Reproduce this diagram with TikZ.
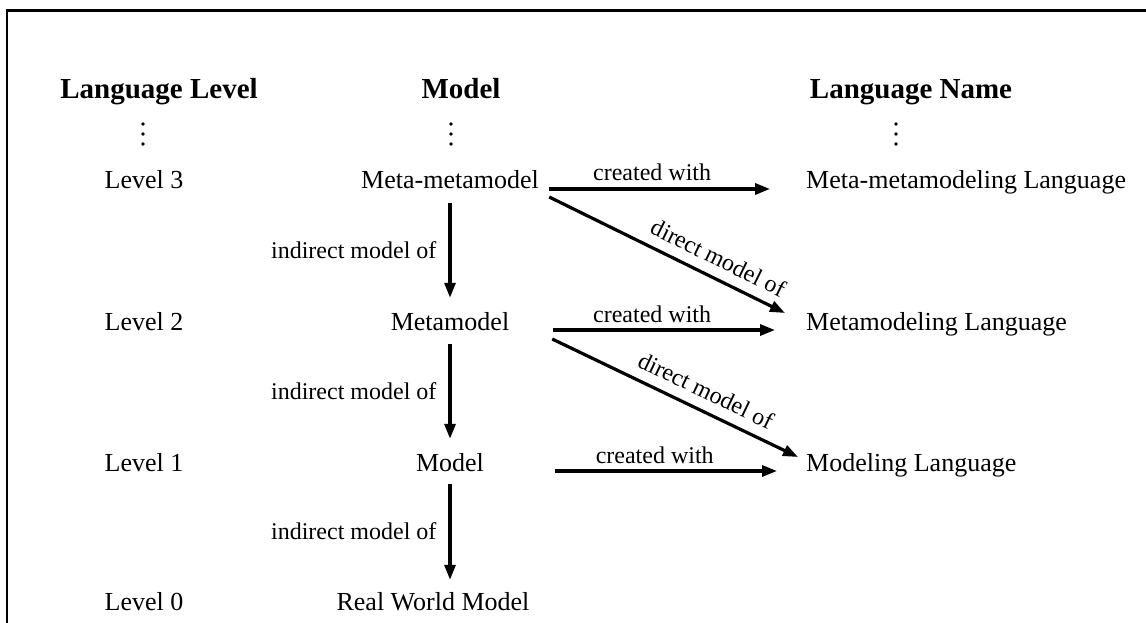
\documentclass[tikz,border=0pt]{standalone}
\usepackage{fontspec}
\setmainfont{Liberation Serif}
\usetikzlibrary{arrows.meta}
\begin{document}
\begin{tikzpicture}[x=1pt,y=-1pt,
  hdr/.style={font=\fontsize{29}{34}\selectfont\bfseries, inner sep=0pt, anchor=base},
  lvl/.style={font=\fontsize{26}{31}\selectfont, inner sep=0pt, anchor=base},
  mdl/.style={font=\fontsize{26}{31}\selectfont, inner sep=0pt, anchor=base, minimum width=190pt},
  lng/.style={font=\fontsize{26}{31}\selectfont, inner sep=0pt, anchor=base west},
  lbl/.style={font=\fontsize{24}{28}\selectfont, inner sep=0pt},
  arr/.style={line width=3.2pt, -{Triangle[length=15pt,width=11pt]}},
  frame/.style={line width=2.5pt},
]
\useasboundingbox (0,0) rectangle (1146,623);
% open frame: left and top edges
\draw[frame] (7,630) -- (7,10.3) -- (1150,10.3);

% column headings
\node[hdr] (hlevel) at (159,99) {Language Level};
\node[hdr] (hmodel) at (461,99) {Model};
\node[hdr] (hname)  at (911,99) {Language Name};

% continuation dots
\foreach \x in {143,451,896}
  \foreach \y in {124,134,144}
    \fill (\x,\y) circle (1.8);

% level column
\node[lvl] (l3) at (144,189) {Level 3};
\node[lvl] (l2) at (144,330) {Level 2};
\node[lvl] (l1) at (144,471) {Level 1};
\node[lvl] (l0) at (144,610) {Level 0};

% model column
\node[mdl] (m3) at (450,189) {Meta-metamodel};
\node[mdl] (m2) at (450,330) {Metamodel};
\node[mdl] (m1) at (450,471) {Model};
\node[mdl] (m0) at (433,610) {Real World Model};

% language column
\node[lng] (n3) at (806,189) {Meta-metamodeling Language};
\node[lng] (n2) at (806,330) {Metamodeling Language};
\node[lng] (n1) at (806,471) {Modeling Language};

% indirect model relations
\draw[arr, shorten <=14pt, shorten >=14pt] (m3.south) -- (m2.north)
  node[lbl, midway, anchor=east, xshift=-12pt] {indirect model of};
\draw[arr, shorten <=14pt, shorten >=14pt] (m2.south) -- (m1.north)
  node[lbl, midway, anchor=east, xshift=-12pt] {indirect model of};
\draw[arr, shorten <=13pt, shorten >=12pt] (m1.south) -- (m1.south |- m0.north)
  node[lbl, midway, anchor=east, xshift=-12pt] {indirect model of};

% created with
\draw[arr, shorten <=4pt, shorten >=36pt] (m3.base east) -- (n3.base west)
  node[lbl, pos=0.41, anchor=base, yshift=8pt] {created with};
\draw[arr, shorten <=8pt, shorten >=31pt] (m2.base east) -- (n2.base west)
  node[lbl, pos=0.41, anchor=base, yshift=8pt] {created with};
\draw[arr, shorten <=10pt, shorten >=29pt] (m1.base east) -- (n1.base west)
  node[lbl, pos=0.42, anchor=base, yshift=8pt] {created with};

% direct model relations
\draw[arr] ([xshift=4pt,yshift=-8pt]m3.base east) -- ([xshift=-21pt,yshift=17pt]n2.base west)
  node[lbl, pos=0.68, sloped, above=10pt] {direct model of};
\draw[arr] ([xshift=7pt,yshift=-9pt]m2.base east) -- ([xshift=-8pt,yshift=14pt]n1.base west)
  node[lbl, pos=0.59, sloped, above=10pt] {direct model of};
\end{tikzpicture}
\end{document}
